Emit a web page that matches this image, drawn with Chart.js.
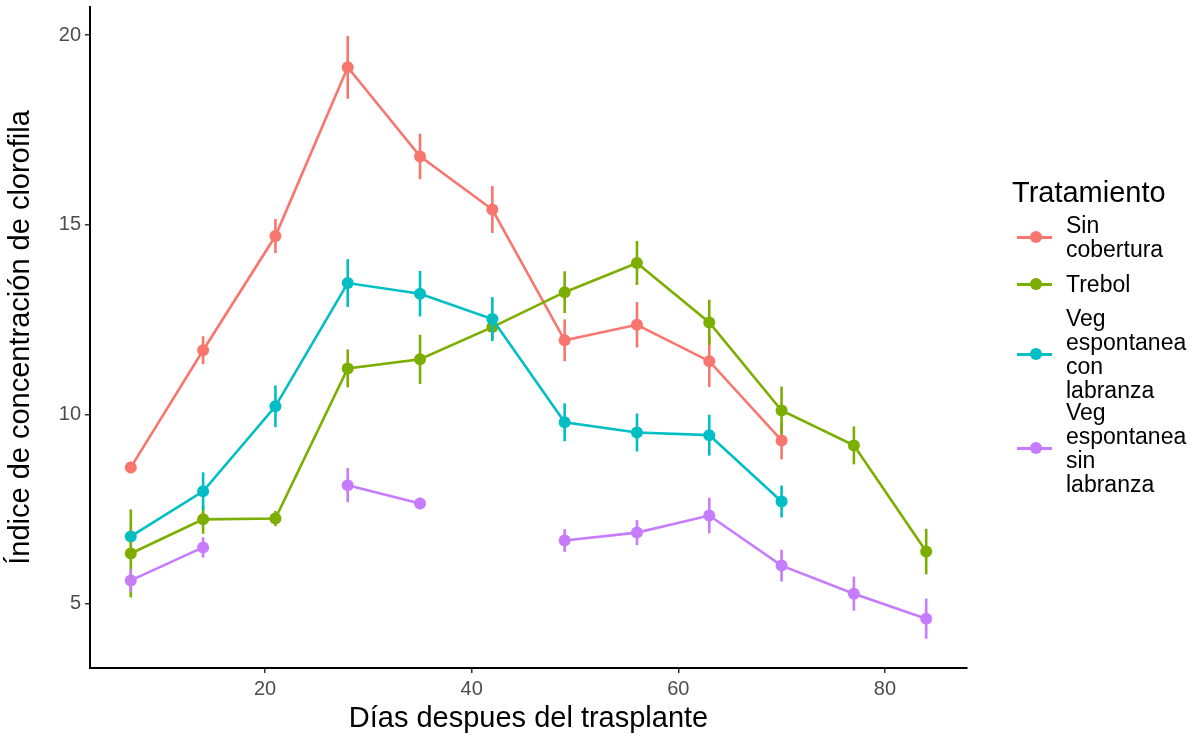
<!DOCTYPE html>
<html>
<head>
<meta charset="utf-8">
<script src="https://cdn.jsdelivr.net/npm/chart.js@4.4.1/dist/chart.umd.min.js"></script>
<style>
  body { margin: 0; background: #fff; font-family: "Liberation Sans", Arial, sans-serif; }
  #wrap { position: relative; width: 1192px; height: 740px; }
  #box { position: absolute; left: 0; top: 0; width: 973px; height: 740px; }
  #legend { position: absolute; left: 0; top: 0; width: 1192px; height: 740px; color: #000; pointer-events: none; }
  #legend .title { position: absolute; left: 1012px; top: 175px; font-size: 29px; line-height: 34px; }
  #legend .item { position: absolute; left: 1012px; display: flex; align-items: center; transform: translateY(-50%); }
  #legend .key { position: relative; width: 40px; height: 20px; margin-right: 14px; flex: none; }
  #legend .key i { position: absolute; left: 5px; right: 0; top: 9px; height: 3px; }
  #legend .key b { position: absolute; left: 18px; top: 4px; width: 12px; height: 12px; border-radius: 50%; }
  #legend .lab { font-size: 23px; line-height: 24px; }
</style>
</head>
<body>
<div id="wrap">
  <div id="box"><canvas id="chart"></canvas></div>
  <div id="legend"></div>
</div>
<script>
// --- DONNÉES ---
const dias = [7, 14, 21, 28, 35, 42, 49, 56, 63, 70, 77, 84];

const sinCobertura    = [8.6, 11.69, 14.7, 19.15, 16.8, 15.4, 11.95, 12.36, 11.4, 9.31, null, null];
const sinCoberturaErr = [0.15, 0.37, 0.45, 0.83, 0.6, 0.62, 0.55, 0.6, 0.68, 0.5, null, null];

const trebol    = [6.33, 7.23, 7.25, 11.21, 11.45, 12.3, 13.22, 13.99, 12.42, 10.1, 9.18, 6.38];
const trebolErr = [1.16, 0.38, 0.2, 0.5, 0.65, 0.3, 0.55, 0.58, 0.6, 0.63, 0.5, 0.6];

const vegCon    = [6.78, 7.97, 10.21, 13.46, 13.18, 12.51, 9.79, 9.52, 9.45, 7.7, null, null];
const vegConErr = [0.15, 0.5, 0.55, 0.63, 0.6, 0.58, 0.5, 0.5, 0.54, 0.42, null, null];

const vegSin    = [5.62, 6.49, null, 8.13, 7.65, null, 6.67, 6.88, 7.33, 6.01, 5.27, 4.61];
const vegSinErr = [0.3, 0.27, null, 0.45, 0.15, null, 0.3, 0.33, 0.47, 0.42, 0.45, 0.53];

const tratamientos = ['Sin cobertura', 'Trebol', 'Veg espontanea con labranza', 'Veg espontanea sin labranza'];
const etiquetas = [['Sin', 'cobertura'], ['Trebol'], ['Veg', 'espontanea', 'con', 'labranza'], ['Veg', 'espontanea', 'sin', 'labranza']];
const colores = ['#F8766D', '#7CAE00', '#00BFC4', '#C77CFF'];
const valores = [sinCobertura, trebol, vegCon, vegSin];
const errores = [sinCoberturaErr, trebolErr, vegConErr, vegSinErr];

const xTicks = [20, 40, 60, 80];
const yTicks = [5, 10, 15, 20];

// centre vertical de chaque clé de légende (px)
const legendY = [237, 284, 354, 448];

// --- BARRES D'ERREUR ---
const errorBars = {
  id: 'errorBars',
  afterDatasetsDraw(chart) {
    const ctx = chart.ctx;
    const xs = chart.scales.x, ys = chart.scales.y;
    chart.data.datasets.forEach(ds => {
      ctx.save();
      ctx.strokeStyle = ds.borderColor;
      ctx.lineWidth = 2.6;
      ds.data.forEach((p, j) => {
        const e = ds.err[j];
        if (p.y == null || e == null) return;
        const px = xs.getPixelForValue(p.x);
        ctx.beginPath();
        ctx.moveTo(px, ys.getPixelForValue(p.y - e));
        ctx.lineTo(px, ys.getPixelForValue(p.y + e));
        ctx.stroke();
      });
      ctx.restore();
    });
  }
};

const datasets = tratamientos.map((t, i) => ({
  label: t,
  data: dias.map((d, j) => ({ x: d, y: valores[i][j] })),
  err: errores[i],
  borderColor: colores[i],
  backgroundColor: colores[i],
  borderWidth: 2.6,
  pointRadius: 6,
  pointHoverRadius: 6,
  pointBorderWidth: 0,
  spanGaps: false,
  tension: 0,
  order: 4 - i
}));

const grey = '#4d4d4d';
const ctx = document.getElementById('chart').getContext('2d');
new Chart(ctx, {
  type: 'line',
  data: { datasets },
  plugins: [errorBars],
  options: {
    responsive: true,
    maintainAspectRatio: false,
    animation: false,
    layout: { padding: { top: 7, right: 6, left: 0, bottom: 0 } },
    plugins: { legend: { display: false }, tooltip: { enabled: false } },
    scales: {
      x: {
        type: 'linear',
        min: 3.05,
        max: 87.95,
        afterBuildTicks: s => { s.ticks = xTicks.map(v => ({ value: v })); },
        afterFit: s => { s.height = 72; },
        border: { display: true, color: '#000', width: 2 },
        grid: { display: true, drawOnChartArea: false, drawTicks: true, tickLength: 5, color: '#333', lineWidth: 1.5 },
        ticks: { color: grey, font: { size: 20, family: 'Liberation Sans' }, padding: 4 },
        title: { display: true, text: 'Días despues del trasplante', color: '#000',
                 font: { size: 29, family: 'Liberation Sans' }, padding: { top: 1 } }
      },
      y: {
        type: 'linear',
        min: 3.31,
        max: 20.74,
        afterBuildTicks: s => { s.ticks = yTicks.map(v => ({ value: v })); },
        afterFit: s => { s.width = 90; s.paddingTop = 0; s.paddingBottom = 0; },
        border: { display: true, color: '#000', width: 2 },
        grid: { display: true, drawOnChartArea: false, drawTicks: true, tickLength: 5, color: '#333', lineWidth: 1.5 },
        ticks: { color: grey, font: { size: 20, family: 'Liberation Sans' }, padding: 4 },
        title: { display: true, text: 'Índice de concentración de clorofila', color: '#000',
                 font: { size: 29, family: 'Liberation Sans' }, padding: { bottom: 6 } }
      }
    }
  }
});

// --- LÉGENDE ---
const leg = document.getElementById('legend');
leg.innerHTML = '<div class="title">Tratamiento</div>' + tratamientos.map((t, i) =>
  `<div class="item" style="top:${legendY[i]}px"><div class="key"><i style="background:${colores[i]}"></i><b style="background:${colores[i]}"></b></div>` +
  `<div class="lab">${etiquetas[i].join('<br>')}</div></div>`).join('');
</script>
</body>
</html>
